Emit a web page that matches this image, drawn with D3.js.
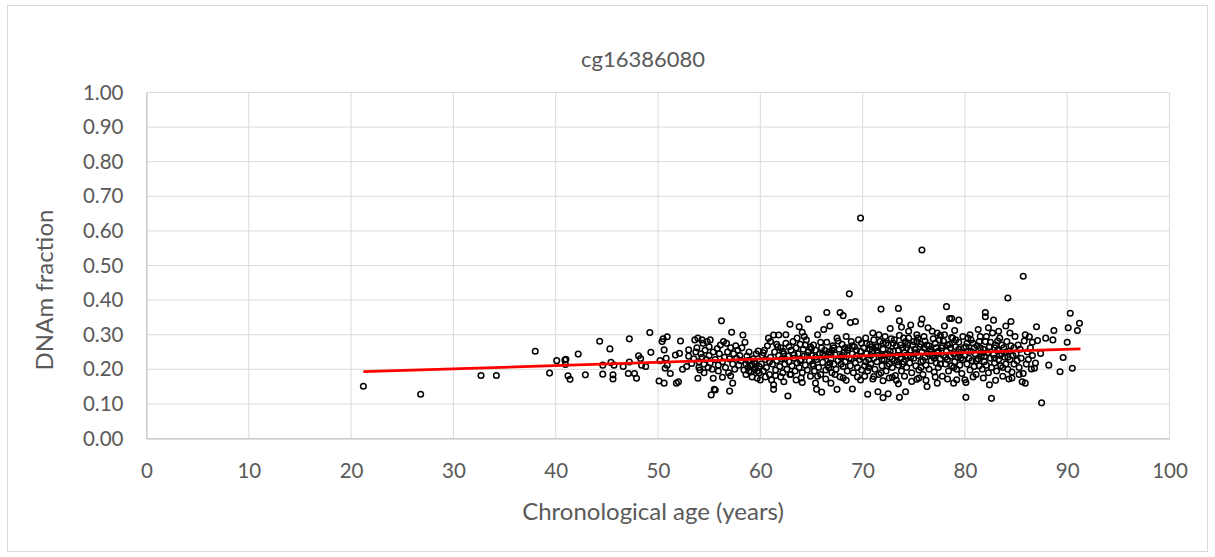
<!DOCTYPE html>
<html>
<head>
<meta charset="utf-8">
<script src="https://cdn.jsdelivr.net/npm/d3@7"></script>
<style>
  body { margin: 0; background: #fff; }
  text { font-family: Lato, "Open Sans", sans-serif; fill: #595959; }
</style>
</head>
<body>
<div id="chart"></div>
<script>
// values, [age, DNAm fraction]
let earlyAges = [[21.2,0.151],[26.8,0.128],[32.7,0.182],[34.2,0.182],[38.0,0.252],[39.4,0.189]]

let forties = [[40.1,0.225],[40.9,0.227],[41.0,0.229],[40.95,0.214],[41.2,0.181],[41.4,0.171],[42.2,0.244],[42.9,0.184],
  [44.3,0.281],[44.6,0.212],[44.6,0.186],[45.3,0.259],[45.4,0.220],[45.6,0.184],[45.6,0.172],[45.7,0.212],[46.6,0.208],
  [47.1,0.188],[47.2,0.288],[47.2,0.221],[47.7,0.188],[47.9,0.174],[48.1,0.239],[48.3,0.231],[48.4,0.212],[48.8,0.208],
  [49.2,0.306],[49.3,0.249]]

let fifties = [[50.1,0.166],[50.2,0.225],[50.4,0.280],[50.5,0.288],[50.9,0.294],[50.6,0.256],[50.6,0.160],[50.7,0.203],
  [50.9,0.212],[50.8,0.232],[51.2,0.188],[51.7,0.241],[51.8,0.160],[52.0,0.164],[52.1,0.246],[52.2,0.282],[52.4,0.200],
  [52.8,0.208],[53.0,0.256],[53.0,0.238],[53.3,0.217],[53.6,0.285],[53.9,0.290],[54.3,0.285],[54.4,0.275],[54.8,0.280],
  [53.9,0.174],[54.1,0.198],[53.5,0.230],[53.7,0.250],[53.8,0.262],[54.0,0.222],[54.0,0.205],[54.2,0.245],[54.3,0.235],
  [54.5,0.215],[54.5,0.190],[54.6,0.255],[54.7,0.228],[54.9,0.205],[55.0,0.265],[55.0,0.240],[55.1,0.285],[55.1,0.218],
  [55.2,0.126],[55.3,0.200],[55.4,0.174],[55.4,0.250],[55.5,0.142],[55.6,0.140],[55.6,0.228],[55.8,0.260],[55.9,0.212],
  [55.9,0.195],[56.0,0.245],[56.1,0.270],[56.2,0.340],[56.3,0.177],[56.3,0.222],[56.4,0.280],[56.5,0.235],[56.6,0.205],
  [56.7,0.275],[56.8,0.250],[56.9,0.190],[57.0,0.137],[57.0,0.230],[57.1,0.181],[57.1,0.262],[57.2,0.307],[57.3,0.160],
  [57.3,0.215],[57.4,0.245],[57.5,0.200],[57.6,0.268],[57.7,0.232],[57.8,0.255],[57.9,0.212],[58.0,0.240],[58.1,0.225],
  [58.2,0.262],[58.3,0.299],[58.4,0.198],[58.5,0.278],[58.6,0.215],[58.7,0.238],[58.8,0.205],[58.9,0.250],[59.0,0.225],
  [59.1,0.192],[59.2,0.212],[59.3,0.230],[59.4,0.200],[59.5,0.218],[59.6,0.245],[59.7,0.174],[59.8,0.253],[59.9,0.208],
  [59.9,0.190],[58.6,0.185],[58.9,0.195],[59.2,0.178],[59.5,0.205],[59.7,0.195],[59.0,0.210],[58.8,0.225],[59.4,0.222]]

let sixties = [[60.8,0.290],[61.3,0.299],[61.8,0.299],[61.0,0.280],[61.7,0.265],[60.0,0.169],[61.1,0.169],[61.3,0.155],
  [61.3,0.142],[62.3,0.164],[62.7,0.123],[62.9,0.330],[63.8,0.323],[64.1,0.307],[64.7,0.345],[63.5,0.169],[64.1,0.162],
  [65.4,0.160],[65.5,0.142],[60.1,0.215],[60.2,0.240],[60.3,0.195],[60.4,0.255],[60.5,0.228],[60.6,0.205],[60.7,0.268],
  [60.9,0.185],[61.0,0.235],[61.2,0.215],[61.4,0.250],[61.5,0.198],[61.6,0.225],[61.8,0.240],[61.9,0.208],[62.0,0.262],
  [62.1,0.230],[62.2,0.190],[62.3,0.245],[62.4,0.215],[62.5,0.275],[62.6,0.200],[62.7,0.238],[62.8,0.222],[62.9,0.185],
  [63.0,0.255],[63.1,0.210],[63.2,0.280],[63.3,0.232],[63.4,0.195],[63.5,0.262],[63.6,0.218],[63.7,0.245],[63.8,0.205],
  [63.9,0.272],[64.0,0.228],[64.1,0.190],[64.2,0.258],[64.3,0.238],[64.4,0.212],[64.5,0.285],[64.6,0.198],[64.7,0.250],
  [64.8,0.225],[64.9,0.265],[64.9,0.180],[62.0,0.178],[63.0,0.185],[64.0,0.175],[61.5,0.182],[60.5,0.178],[63.6,0.290],
  [64.3,0.295],[62.5,0.300],
  [66.5,0.364],[67.8,0.364],[68.1,0.355],[68.8,0.335],[69.3,0.338],[68.7,0.418],[66.0,0.134],[66.9,0.160],[67.5,0.142],
  [69.0,0.143],[68.1,0.175],[69.8,0.169],[69.8,0.637],[65.0,0.240],[65.1,0.215],[65.2,0.270],[65.3,0.195],[65.4,0.255],
  [65.5,0.228],[65.6,0.300],[65.7,0.205],[65.8,0.245],[65.9,0.185],[66.0,0.262],[66.1,0.220],[66.2,0.315],[66.3,0.238],
  [66.4,0.198],[66.5,0.278],[66.6,0.212],[66.7,0.250],[66.8,0.325],[66.9,0.230],[67.0,0.190],[67.1,0.268],[67.2,0.215],
  [67.3,0.242],[67.4,0.200],[67.5,0.290],[67.6,0.225],[67.7,0.258],[67.8,0.178],[67.9,0.235],[68.0,0.272],[68.1,0.208],
  [68.2,0.248],[68.3,0.222],[68.4,0.295],[68.5,0.195],[68.6,0.262],[68.7,0.232],[68.8,0.210],[68.9,0.280],[69.0,0.245],
  [69.1,0.190],[69.2,0.265],[69.3,0.218],[69.4,0.238],[69.5,0.205],[69.6,0.285],[69.7,0.228],[69.8,0.252],[69.9,0.198],
  [65.6,0.180],[66.4,0.172],[67.3,0.185],[68.4,0.168],[69.5,0.178],[65.2,0.210],[66.7,0.205],[67.9,0.215],[68.9,0.230],
  [66.1,0.245],[67.0,0.255]]

let seventies = [[71.8,0.374],[73.5,0.376],[73.6,0.340],[74.7,0.328],[70.5,0.128],[71.5,0.135],[72.0,0.118],[72.5,0.129],
  [72.0,0.167],[73.6,0.119],[74.2,0.135],[73.5,0.158],[71.1,0.179],[72.9,0.177],[70.0,0.235],[70.1,0.262],[70.2,0.210],
  [70.3,0.290],[70.4,0.245],[70.5,0.195],[70.6,0.228],[70.7,0.272],[70.8,0.215],[70.9,0.250],[71.0,0.305],[71.1,0.232],
  [71.2,0.200],[71.3,0.265],[71.4,0.222],[71.5,0.248],[71.6,0.185],[71.7,0.280],[71.8,0.238],[71.9,0.210],[72.0,0.258],
  [72.1,0.228],[72.2,0.295],[72.3,0.195],[72.4,0.245],[72.5,0.270],[72.6,0.215],[72.7,0.235],[72.8,0.288],[72.9,0.205],
  [73.0,0.252],[73.1,0.225],[73.2,0.182],[73.3,0.268],[73.4,0.240],[73.5,0.212],[73.6,0.298],[73.7,0.230],[73.8,0.195],
  [73.9,0.262],[74.0,0.222],[74.1,0.248],[74.2,0.280],[74.3,0.205],[74.4,0.238],[74.5,0.310],[74.6,0.218],[74.7,0.255],
  [74.8,0.190],[74.9,0.270],[70.2,0.180],[71.0,0.172],[71.8,0.190],[72.6,0.175],[73.3,0.168],[74.1,0.180],[74.8,0.165],
  [70.8,0.240],[71.4,0.255],[72.2,0.242],[72.9,0.230],[73.5,0.255],[74.3,0.262],[70.4,0.275],[71.6,0.300],[72.7,0.318],
  [73.8,0.322],[74.5,0.290],[70.6,0.205],[72.4,0.210],[73.9,0.215],
  [75.8,0.345],[75.7,0.331],[78.2,0.381],[78.5,0.347],[75.3,0.171],[76.3,0.150],[77.3,0.160],[78.7,0.347],[79.4,0.342],
  [78.9,0.160],[75.8,0.545],[75.0,0.232],[75.1,0.258],[75.2,0.210],[75.3,0.280],[75.4,0.240],[75.5,0.198],[75.6,0.265],
  [75.7,0.222],[75.8,0.250],[75.9,0.185],[76.0,0.295],[76.1,0.235],[76.2,0.212],[76.3,0.270],[76.4,0.245],[76.5,0.200],
  [76.6,0.258],[76.7,0.225],[76.8,0.310],[76.9,0.238],[77.0,0.192],[77.1,0.275],[77.2,0.218],[77.3,0.248],[77.4,0.205],
  [77.5,0.285],[77.6,0.230],[77.7,0.262],[77.8,0.180],[77.9,0.240],[78.0,0.300],[78.1,0.215],[78.2,0.252],[78.3,0.228],
  [78.4,0.195],[78.5,0.272],[78.6,0.238],[78.7,0.210],[78.8,0.290],[78.9,0.245],[79.0,0.222],[79.1,0.265],[79.2,0.200],
  [79.3,0.235],[79.4,0.278],[79.5,0.212],[79.6,0.250],[79.7,0.188],[79.8,0.228],[79.9,0.262],[75.5,0.175],[76.2,0.168],
  [77.1,0.178],[78.3,0.172],[79.2,0.170],[75.9,0.225],[76.7,0.250],[77.6,0.215],[78.6,0.262],[79.5,0.240],[75.3,0.300],
  [76.4,0.320],[77.3,0.305],[78.0,0.325],[79.0,0.312],[75.7,0.205],[77.0,0.232],[78.9,0.205],[76.0,0.262],[77.8,0.268]]

let eighties = [[82.0,0.364],[82.0,0.352],[82.8,0.342],[84.5,0.338],[84.2,0.406],[82.6,0.116],[80.1,0.119],[82.4,0.155],
  [80.1,0.162],[80.0,0.170],[84.3,0.172],[80.0,0.240],[80.1,0.265],[80.2,0.215],[80.3,0.290],[80.4,0.232],[80.5,0.198],
  [80.6,0.252],[80.7,0.225],[80.8,0.275],[80.9,0.208],[81.0,0.245],[81.1,0.185],[81.2,0.268],[81.3,0.230],[81.4,0.210],
  [81.5,0.295],[81.6,0.238],[81.7,0.200],[81.8,0.258],[81.9,0.222],[82.0,0.280],[82.1,0.212],[82.2,0.248],[82.3,0.190],
  [82.4,0.265],[82.5,0.232],[82.6,0.205],[82.7,0.305],[82.8,0.242],[82.9,0.218],[83.0,0.270],[83.1,0.195],[83.2,0.255],
  [83.3,0.228],[83.4,0.290],[83.5,0.210],[83.6,0.245],[83.7,0.180],[83.8,0.262],[83.9,0.235],[84.0,0.215],[84.1,0.280],
  [84.2,0.200],[84.3,0.252],[84.4,0.228],[84.5,0.268],[84.6,0.192],[84.7,0.240],[84.8,0.215],[84.9,0.295],[80.5,0.300],
  [81.3,0.315],[82.3,0.320],[83.3,0.310],[84.0,0.325],[80.8,0.178],[81.8,0.175],[83.0,0.168],[84.6,0.175],[81.1,0.225],
  [82.9,0.232],[83.7,0.205],
  [85.7,0.469],[90.3,0.362],[91.2,0.333],[91.0,0.312],[90.1,0.320],[88.7,0.312],[87.0,0.323],[87.1,0.283],[87.9,0.290],
  [88.6,0.285],[90.0,0.278],[86.3,0.294],[87.4,0.246],[89.6,0.234],[88.2,0.212],[89.3,0.193],[90.5,0.203],[87.5,0.103],
  [85.6,0.164],[85.9,0.160],[85.7,0.188],[86.5,0.201],[86.8,0.203],[85.0,0.245],[85.1,0.225],[85.2,0.270],[85.3,0.205],
  [85.4,0.258],[85.5,0.232],[85.8,0.282],[86.0,0.215],[86.1,0.250],[86.2,0.228],[86.4,0.262],[86.6,0.240],[86.9,0.218],
  [85.3,0.185],[85.9,0.300],[86.6,0.278]]

// extra points in the densest part of the cloud
let denseCore = [[60.3,0.248],[60.9,0.222],[61.6,0.272],[62.2,0.252],[62.8,0.265],[63.3,0.242],[63.9,0.225],[64.4,0.270],
  [65.0,0.260],[65.4,0.235],[65.9,0.278],[66.3,0.255],[66.8,0.218],[67.2,0.262],[67.6,0.282],[68.0,0.240],[68.5,0.255],
  [69.0,0.268],[69.4,0.255],[69.9,0.275],[70.3,0.222],[70.7,0.258],[71.1,0.285],[71.5,0.265],[71.9,0.228],[72.3,0.275],
  [72.7,0.252],[73.1,0.285],[73.4,0.222],[73.7,0.270],[74.0,0.290],[74.4,0.272],[74.7,0.235],[75.0,0.280],[75.4,0.290],
  [75.7,0.272],[76.1,0.282],[76.5,0.268],[76.9,0.288],[77.2,0.262],[77.6,0.298],[77.9,0.282],[78.3,0.270],[78.7,0.292],
  [79.1,0.285],[79.4,0.258],[79.8,0.295],[80.2,0.275],[80.6,0.285],[80.9,0.262],[81.4,0.280],[81.7,0.248],[82.1,0.295],
  [82.5,0.278],[82.9,0.262],[83.2,0.282],[83.6,0.270],[84.0,0.250],[84.4,0.305],[84.8,0.262],[74.2,0.240],[76.8,0.240],
  [78.1,0.235],[80.3,0.252],[81.5,0.262],[83.4,0.240],[73.0,0.275],[75.2,0.248],[77.4,0.252],[79.6,0.232],[81.9,0.238],
  [84.2,0.235],[62.4,0.230],[64.6,0.240],[66.9,0.245],[68.3,0.262],[70.9,0.265],[72.0,0.275]]

// linear trendline, ends
let trendAges = [21.2, 91.3]
let trendValues = [0.193, 0.259]

let xTicks = [0, 10, 20, 30, 40, 50, 60, 70, 80, 90, 100]
let yTicks = [0, 0.1, 0.2, 0.3, 0.4, 0.5, 0.6, 0.7, 0.8, 0.9, 1.0]

let chartTitle = 'cg16386080'
let xTitle = 'Chronological age (years)'
let yTitle = 'DNAm fraction'

function scatterChart() {
  let totalWidth = 1215,
    totalHeight = 557,
    margin = { top: 92.5, left: 146.5, right: 45.5, bottom: 118.5 },
    width = totalWidth - margin.left - margin.right,
    height = totalHeight - margin.top - margin.bottom

  function chart(selector) {
    let points = earlyAges.concat(forties, fifties, sixties, seventies, eighties, denseCore)

    let svg = d3.select(selector)
      .append('svg')
      .attr('width', totalWidth)
      .attr('height', totalHeight)
      .style('display', 'block')

    // chart border
    svg.append('rect')
      .attr('x', 7.5).attr('y', 5.5)
      .attr('width', 1200).attr('height', 546)
      .attr('fill', '#fff')
      .attr('stroke', '#d9d9d9')

    let g = svg.append('g').attr('transform', 'translate(' + margin.left + ',' + margin.top + ')')

    let x = d3.scaleLinear().domain([0, 100]).range([0, width])
    let y = d3.scaleLinear().domain([0, 1]).range([height, 0])

    // gridlines
    g.append('g').selectAll('line.h')
      .data(yTicks)
      .enter().append('line')
      .attr('x1', 0).attr('x2', width)
      .attr('y1', d => y(d)).attr('y2', d => y(d))
      .attr('stroke', '#d9d9d9').attr('stroke-width', 1)

    g.append('g').selectAll('line.v')
      .data(xTicks)
      .enter().append('line')
      .attr('y1', 0).attr('y2', height)
      .attr('x1', d => x(d)).attr('x2', d => x(d))
      .attr('stroke', '#d9d9d9').attr('stroke-width', 1)

    // axes
    let xAxis = g.append('g')
      .attr('transform', 'translate(0,' + height + ')')
      .call(d3.axisBottom(x).tickValues(xTicks).tickSize(0).tickPadding(25).tickFormat(d3.format('d')))
    xAxis.select('.domain').attr('stroke', '#bfbfbf')

    let yAxis = g.append('g')
      .call(d3.axisLeft(y).tickValues(yTicks).tickSize(0).tickPadding(23).tickFormat(d3.format('.2f')))
    yAxis.select('.domain').attr('stroke', '#bfbfbf')

    g.selectAll('.tick text')
      .style('font-family', 'Lato, "Open Sans", sans-serif')
      .style('font-size', '20.5px')
      .attr('fill', '#595959')

    // markers
    g.append('g').selectAll('circle')
      .data(points)
      .enter().append('circle')
      .attr('cx', d => x(d[0]))
      .attr('cy', d => y(d[1]))
      .attr('r', 2.8)
      .attr('fill', 'none')
      .attr('stroke', '#000')
      .attr('stroke-width', 1.5)

    // trendline
    let line = d3.line().x(d => x(d[0])).y(d => y(d[1]))
    g.append('path')
      .datum(trendAges.map((a, i) => [a, trendValues[i]]))
      .attr('d', line)
      .attr('fill', 'none')
      .attr('stroke', '#ff0000')
      .attr('stroke-width', 2.8)

    // titles
    svg.append('text')
      .attr('x', 643)
      .attr('y', 67)
      .attr('text-anchor', 'middle')
      .style('font-size', '22px')
      .text(chartTitle)

    svg.append('text')
      .attr('x', 653)
      .attr('y', 520)
      .attr('text-anchor', 'middle')
      .style('font-size', '24px')
      .text(xTitle)

    svg.append('text')
      .attr('transform', 'translate(53,290) rotate(-90)')
      .attr('text-anchor', 'middle')
      .style('font-size', '24px')
      .text(yTitle)

    return chart
  }

  return chart
}

scatterChart()('#chart')
</script>
</body>
</html>
